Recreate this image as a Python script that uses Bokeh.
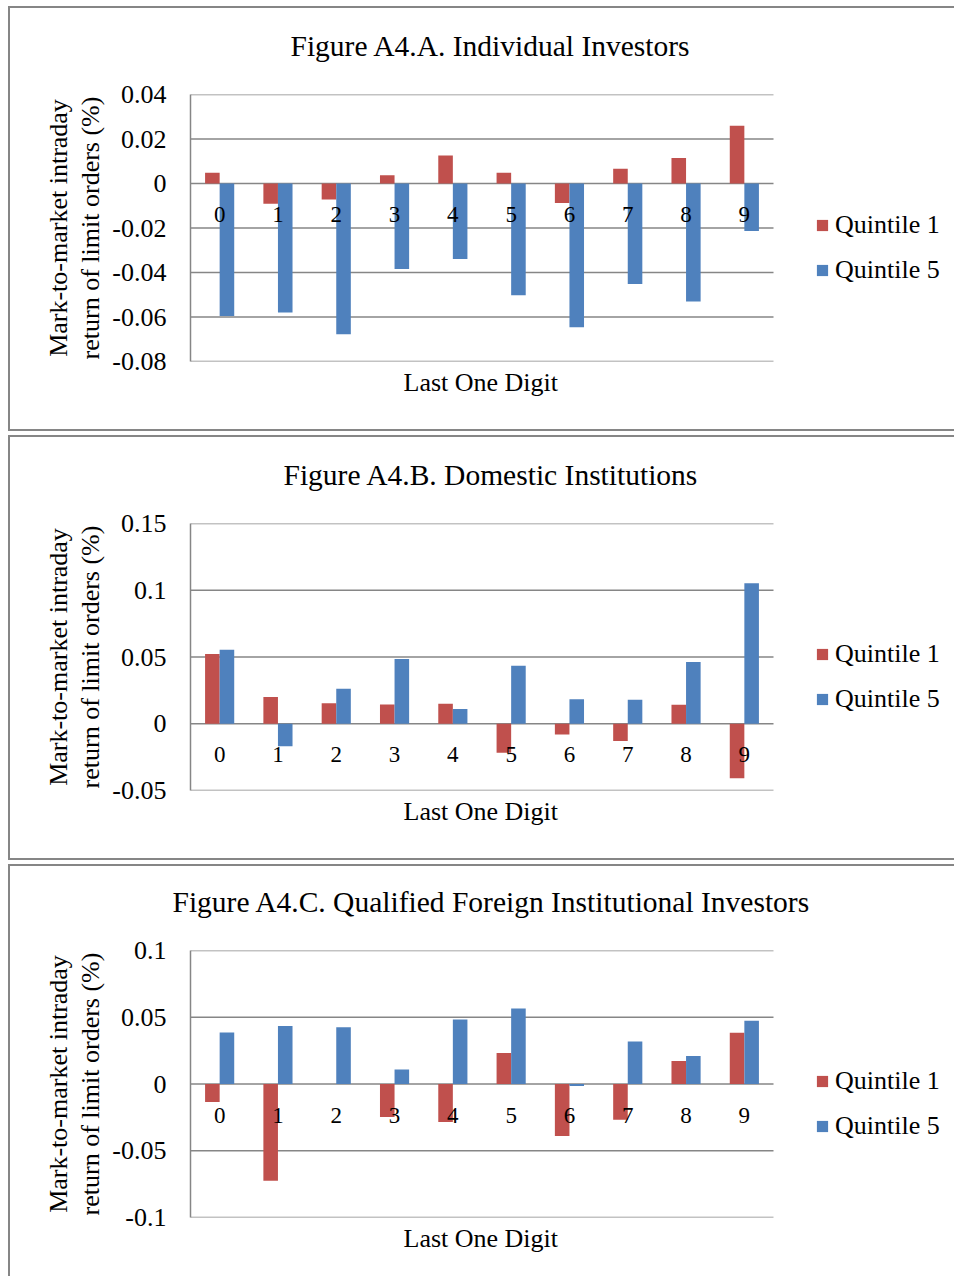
from bokeh.plotting import figure
from bokeh.models import Range1d, FixedTicker, Legend, LegendItem, ColumnDataSource, Title
from bokeh.layouts import column
from bokeh.embed import file_html
from bokeh.resources import INLINE
from bokeh.core.properties import value
from bokeh.transform import dodge

# ---------------- data ----------------
digits = list(range(10))
digit_labels = [str(d) for d in digits]
series_names = ["Quintile 1", "Quintile 5"]

titles = [
    "Figure A4.A. Individual Investors",
    "Figure A4.B. Domestic Institutions",
    "Figure A4.C. Qualified Foreign Institutional Investors",
]
y_title = "Mark-to-market intraday\nreturn of limit orders (%)"
x_title = "Last One Digit"

a_q1 = [0.0048, -0.0091, -0.0072, 0.0037, 0.0126, 0.0048, -0.0088, 0.0066, 0.0115, 0.0259]
a_q5 = [-0.0596, -0.0580, -0.0677, -0.0384, -0.0339, -0.0502, -0.0646, -0.0452, -0.0530, -0.0213]
b_q1 = [0.0523, 0.0200, 0.0153, 0.0145, 0.0150, -0.0218, -0.0080, -0.0130, 0.0143, -0.0408]
b_q5 = [0.0555, -0.0168, 0.0263, 0.0485, 0.0110, 0.0435, 0.0183, 0.0180, 0.0463, 0.1053]
c_q1 = [-0.0135, -0.0725, 0.0, -0.0248, -0.0285, 0.0233, -0.0390, -0.0268, 0.0173, 0.0383]
c_q5 = [0.0385, 0.0435, 0.0425, 0.0108, 0.0483, 0.0565, -0.0015, 0.0318, 0.0210, 0.0473]

a_ticks = [-0.08, -0.06, -0.04, -0.02, 0.0, 0.02, 0.04]
a_tick_labels = ["-0.08", "-0.06", "-0.04", "-0.02", "0", "0.02", "0.04"]
b_ticks = [-0.05, 0.0, 0.05, 0.1, 0.15]
b_tick_labels = ["-0.05", "0", "0.05", "0.1", "0.15"]
c_ticks = [-0.1, -0.05, 0.0, 0.05, 0.1]
c_tick_labels = ["-0.1", "-0.05", "0", "0.05", "0.1"]

# ---------------- style ----------------
RED = "#C0504D"
BLUE = "#4F81BD"
GRAY = "#868686"
FONT = "Liberation Serif"
FS = "26px"
BORDER = "2px solid #868686"

FIG_W = 946
LEFT = 180
PLOT_W = 583            # width of the 10 category slots in px
FRAME_W = FIG_W - LEFT  # frame runs to the right edge so the legend is not clipped
X_START = -0.5
X_END = X_START + FRAME_W / (PLOT_W / len(digits))
CAT_END = X_START + len(digits)


def make_panel(title, title_offset, q1, q5, ticks, tick_labels, height, top, bottom_border=True):
    p = figure(width=FIG_W, height=height, output_backend="svg", toolbar_location=None,
               x_range=Range1d(X_START, X_END), y_range=Range1d(ticks[0], ticks[-1]),
               min_border_left=LEFT, min_border_right=0, min_border_top=top,
               min_border_bottom=height - top - 267)
    p.outline_line_color = None
    p.background_fill_color = "white"
    p.border_fill_color = "white"
    p.xgrid.visible = False
    p.ygrid.visible = False

    # horizontal grid lines over the category area only
    p.segment(x0=X_START, x1=CAT_END, y0=ticks, y1=ticks, line_color=GRAY, line_width=1.5)

    src = ColumnDataSource(dict(d=digits, lab=digit_labels, q1=q1, q5=q5))
    r1 = p.vbar(x=dodge("d", -0.125, range=p.x_range), top="q1", bottom=0, width=0.25,
                fill_color=RED, line_color=None, source=src)
    r5 = p.vbar(x=dodge("d", 0.125, range=p.x_range), top="q5", bottom=0, width=0.25,
                fill_color=BLUE, line_color=None, source=src)
    p.text(x="d", y=0, text="lab", source=src, text_align="center", text_baseline="middle",
           y_offset=31, text_font=value(FONT), text_font_size="23px", text_color="black")

    # spacer between the frame and the title (title is stacked outside it)
    p.add_layout(Title(text=" ", text_font_size="1px", standoff=30), "above")

    # title
    p.title.text = title
    p.title.align = "left"
    p.title.offset = title_offset
    p.title.text_font = FONT
    p.title.text_font_style = "normal"
    p.title.text_font_size = "29.5px"
    p.title.text_color = "black"
    p.title.standoff = 0

    # y axis
    p.yaxis.ticker = FixedTicker(ticks=ticks)
    p.yaxis.major_label_overrides = {float(t): s for t, s in zip(ticks, tick_labels)}
    p.yaxis.axis_line_color = GRAY
    p.yaxis.axis_line_width = 1.5
    p.yaxis.major_tick_out = 0
    p.yaxis.major_tick_in = 0
    p.yaxis.minor_tick_out = 0
    p.yaxis.minor_tick_in = 0
    p.yaxis.major_label_standoff = 24
    p.yaxis.major_label_text_font = FONT
    p.yaxis.major_label_text_font_size = FS
    p.yaxis.major_label_text_color = "black"
    p.yaxis.axis_label = y_title
    p.yaxis.axis_label_text_font = FONT
    p.yaxis.axis_label_text_font_style = "normal"
    p.yaxis.axis_label_text_font_size = FS
    p.yaxis.axis_label_text_line_height = 1.1
    p.yaxis.axis_label_text_color = "black"
    p.yaxis.axis_label_standoff = 4

    # x axis hidden; its title is a left-aligned caption below the frame
    p.xaxis.visible = False
    xt = Title(text=x_title, align="left", offset=213, text_font=FONT,
               text_font_style="normal", text_font_size=FS, text_color="black", standoff=8)
    p.add_layout(xt, "below")

    legend = Legend(items=[LegendItem(label=series_names[0], renderers=[r1]),
                           LegendItem(label=series_names[1], renderers=[r5])],
                    location=(625, 75), orientation="vertical",
                    border_line_color=None, background_fill_alpha=0,
                    padding=0, margin=0, spacing=13, glyph_width=14, glyph_height=14,
                    label_standoff=6, label_height=32,
                    label_text_font=FONT, label_text_font_size=FS, label_text_color="black")
    p.add_layout(legend)

    st = {"border-left": BORDER, "border-top": BORDER}
    if bottom_border:
        st["border-bottom"] = BORDER
    p.styles = st
    return p


p1 = make_panel(titles[0], 100, a_q1, a_q5, a_ticks, a_tick_labels, 425, 86)
p2 = make_panel(titles[1], 93, b_q1, b_q5, b_ticks, b_tick_labels, 425, 86)
p3 = make_panel(titles[2], -18, c_q1, c_q5, c_ticks, c_tick_labels, 412, 84, bottom_border=False)

layout = column(p1, p2, p3, spacing=4, margin=(6, 0, 0, 8))
open("out.html", "w").write(file_html(layout, INLINE))
